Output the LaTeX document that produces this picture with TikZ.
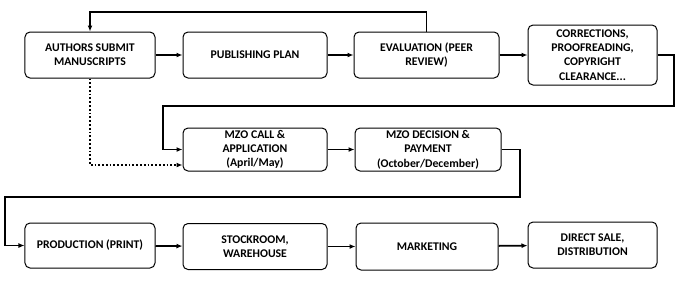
\documentclass[tikz,border=0pt]{standalone}
\usepackage{fontspec}
\setmainfont{Carlito}
\usetikzlibrary{arrows.meta,positioning}

\begin{document}
\begin{tikzpicture}[x=1bp,y=-1bp,
    stepbox/.style={draw=black, line width=1bp, rounded corners=5bp, align=center,
      inner sep=1bp, font=\fontsize{11.8}{14.4}\selectfont\bfseries},
    flow/.style={-{Latex[length=6bp,width=5bp]}, line width=1.8bp},
    optflow/.style={flow, dotted, line width=2bp}]
  \useasboundingbox (0,0) rectangle (681,285);
  % Row 1
  \node[stepbox, minimum width=130bp, minimum height=46bp] (auth) at (90,55) {AUTHORS SUBMIT\\MANUSCRIPTS};
  \node[stepbox, minimum width=144bp, minimum height=46bp] (plan) at (255,55) {PUBLISHING PLAN};
  \node[stepbox, minimum width=145bp, minimum height=46bp] (eval) at (426.5,55) {EVALUATION (PEER\\REVIEW)};
  \node[stepbox, minimum width=129bp, minimum height=60bp] (corr) at (592.5,55) {CORRECTIONS,\\PROOFREADING,\\COPYRIGHT\\CLEARANCE...};
  % Row 2
  \node[stepbox, minimum width=144bp, minimum height=43bp] (call) at (255,149.5) {MZO CALL \&\\APPLICATION\\(April/May)};
  \node[stepbox, minimum width=146bp, minimum height=43bp] (dec) at (428,149.5) {MZO DECISION \&\\PAYMENT\\(October/December)};
  % Row 3
  \node[stepbox, minimum width=130bp, minimum height=45bp] (prod) at (90,245.5) {PRODUCTION (PRINT)};
  \node[stepbox, minimum width=144bp, minimum height=46bp] (stock) at (255,246.5) {STOCKROOM,\\WAREHOUSE};
  \node[stepbox, minimum width=142bp, minimum height=47bp] (mark) at (427,246.5) {MARKETING};
  \node[stepbox, minimum width=129bp, minimum height=46bp] (direct) at (592.5,245) {DIRECT SALE,\\DISTRIBUTION};
  % Bends
  \coordinate (back) at (426.5,12);
  \coordinate (turn1) at (674,106);
  \coordinate (drop1) at (163,106);
  \coordinate (turn2) at (520,197);
  \coordinate (drop2) at (5,197);
  % Arrows
  \draw[flow] (auth) -- (plan);
  \draw[flow] (plan) -- (eval);
  \draw[flow] (eval) -- (corr);
  \draw[flow] (eval.north) -- (back) -| (auth.north);
  \draw[flow] (corr.east) -| (turn1) -- (drop1) |- (call.west);
  \draw[optflow] (auth.south) |- ([yshift=-15.5bp]call.west);
  \draw[flow] (call) -- (dec);
  \draw[flow] (dec.east) -| (turn2) -- (drop2) |- (prod.west);
  \draw[flow] (prod) -- (stock);
  \draw[flow] (stock) -- (mark);
  \draw[flow] (mark) -- (direct);
\end{tikzpicture}
\end{document}
